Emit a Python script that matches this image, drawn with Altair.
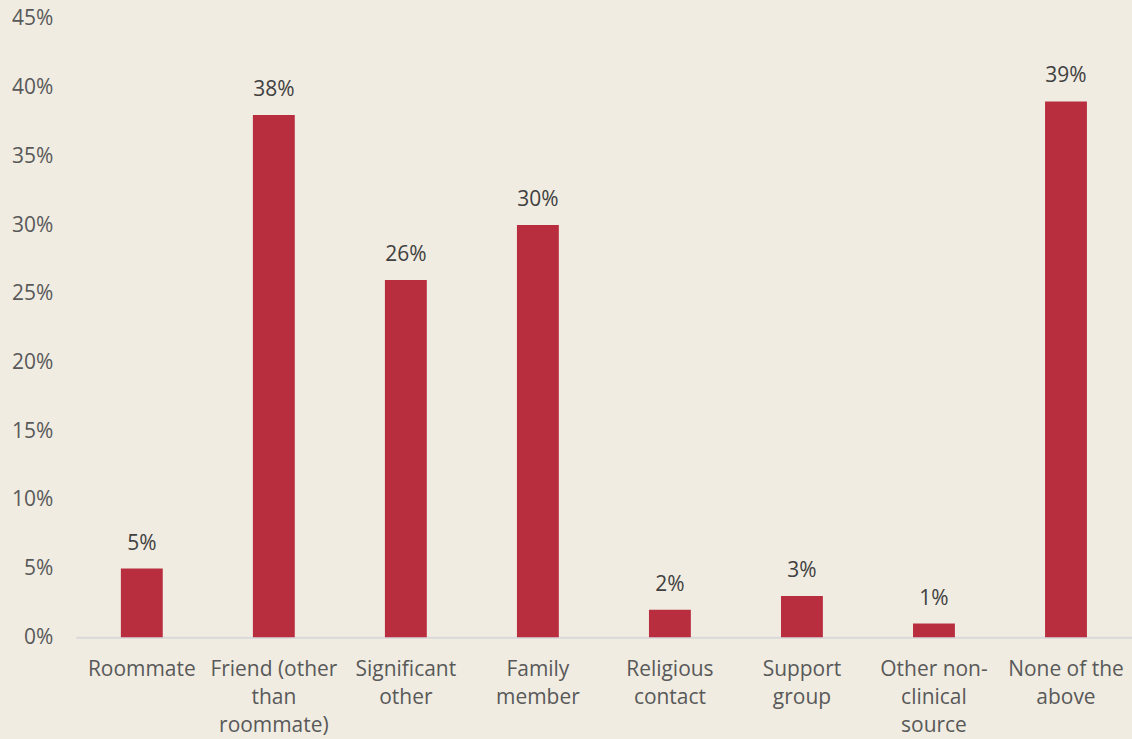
import altair as alt
import pandas as pd

categories = [
    "Roommate",
    "Friend (other|than|roommate)",
    "Significant|other",
    "Family|member",
    "Religious|contact",
    "Support|group",
    "Other non-|clinical|source",
    "None of the|above",
]
values = [0.05, 0.38, 0.26, 0.30, 0.02, 0.03, 0.01, 0.39]
y_ticks = [0, 0.05, 0.10, 0.15, 0.20, 0.25, 0.30, 0.35, 0.40, 0.45]

df = pd.DataFrame({"cat": categories, "val": values})

FONT = "Open Sans"
BG = "#F0ECE2"
BAR = "#B82E3E"

x = alt.X(
    "cat:N",
    sort=None,
    scale=alt.Scale(paddingInner=0, paddingOuter=0),
    axis=alt.Axis(
        title=None,
        labelAngle=0,
        labelExpr="split(datum.label, '|')",
        labelFont=FONT,
        labelFontSize=21,
        labelColor="#595959",
        labelPadding=21,
        labelLineHeight=28,
        labelLimit=200,
        ticks=False,
        domainColor="#D9D9D9",
        domainWidth=2,
    ),
)
y = alt.Y(
    "val:Q",
    scale=alt.Scale(domain=[0, 0.45], nice=False),
    axis=alt.Axis(
        title=None,
        values=y_ticks,
        format=".0%",
        labelFont=FONT,
        labelFontSize=21,
        labelColor="#595959",
        labelPadding=23,
        ticks=False,
        domain=False,
        grid=False,
    ),
)

base = alt.Chart(df).encode(x=x, y=y)
bars = base.mark_bar(size=42, color=BAR)
labels = base.mark_text(
    font=FONT, fontSize=21, color="#404040", baseline="alphabetic", dy=-19
).encode(text=alt.Text("val:Q", format=".0%"))

chart = (
    (bars + labels)
    .properties(
        width=1059,
        height=620,
        background=BG,
        autosize=alt.AutoSizeParams(type="none"),
        padding={"left": 76, "top": 18, "right": 0, "bottom": 101},
    )
    .configure_view(stroke=None)
)

chart.save("out.html", embed_options={"renderer": "svg", "actions": False})
